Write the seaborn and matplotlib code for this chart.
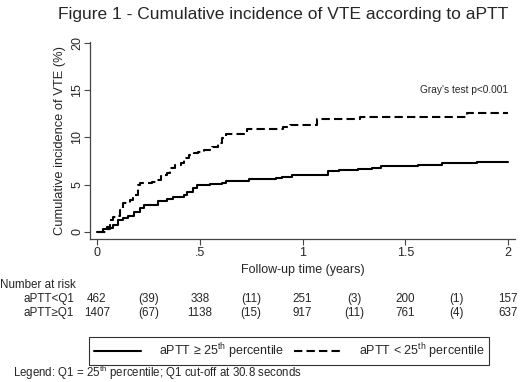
import numpy as np
import pandas as pd
import seaborn as sns
import matplotlib.pyplot as plt
import matplotlib.transforms as mtransforms
from matplotlib.lines import Line2D

# cumulative incidence step points (years, %)
low_time = [0, 0.047, 0.063, 0.078, 0.096, 0.112, 0.127, 0.16, 0.175, 0.20, 0.21,
            0.27, 0.29, 0.31, 0.34, 0.355, 0.38, 0.41, 0.425, 0.45, 0.47, 0.49,
            0.52, 0.56, 0.59, 0.61, 0.63, 0.73, 0.88, 0.905, 0.94, 1.07, 1.28,
            1.80, 2.0]
low_inc = [0, 0.47, 1.2, 1.6, 1.7, 2.3, 3.0, 3.4, 3.9, 4.9, 5.2,
           5.3, 5.5, 6.0, 6.2, 6.7, 7.1, 7.3, 7.8, 8.1, 8.3, 8.5,
           8.7, 9.0, 9.4, 9.9, 10.4, 10.9, 10.9, 11.1, 11.3, 11.9, 12.2,
           12.6, 12.6]

high_time = [0, 0.03, 0.063, 0.078, 0.1, 0.127, 0.15, 0.18, 0.21, 0.23, 0.297,
             0.34, 0.37, 0.425, 0.44, 0.465, 0.485, 0.55, 0.61, 0.63, 0.74,
             0.87, 0.9, 0.95, 1.125, 1.18, 1.27, 1.34, 1.38, 1.56, 1.68, 1.85, 2.0]
high_inc = [0, 0.25, 0.36, 0.7, 1.2, 1.45, 1.7, 2.1, 2.5, 2.8, 3.3,
            3.5, 3.7, 3.9, 4.25, 4.6, 4.95, 5.05, 5.2, 5.4, 5.6,
            5.7, 5.85, 6.0, 6.4, 6.55, 6.65, 6.7, 7.0, 7.1, 7.25, 7.4, 7.4]

risk_times = [0, 0.25, 0.5, 0.75, 1, 1.25, 1.5, 1.75, 2]
risk_low = ['462', '(39)', '338', '(11)', '251', '(3)', '200', '(1)', '157']
risk_high = ['1407', '(67)', '1138', '(15)', '917', '(11)', '761', '(4)', '637']

df = pd.concat([
    pd.DataFrame({'time': high_time, 'inc': high_inc, 'group': 'high'}),
    pd.DataFrame({'time': low_time, 'inc': low_inc, 'group': 'low'}),
])

sns.set_theme(style='white')
plt.rcParams['font.family'] = ['Liberation Sans', 'DejaVu Sans']
plt.rcParams['mathtext.fontset'] = 'custom'
plt.rcParams['mathtext.rm'] = 'Liberation Sans'

fig = plt.figure(figsize=(5.2, 3.82), dpi=100)
ax = fig.add_axes([90 / 520, 1 - 239 / 382, 425 / 520, (239 - 41.7) / 382])

sns.lineplot(data=df, x='time', y='inc', hue='group', style='group',
             palette={'high': 'black', 'low': 'black'},
             dashes={'high': '', 'low': (4, 2)},
             estimator=None, sort=False, drawstyle='steps-post',
             linewidth=1.5, legend=False, ax=ax)

ax.set_xlim(-0.034, 2.034)
ax.set_ylim(-0.78, 20.15)
ax.set_xticks([0, 0.5, 1, 1.5, 2])
ax.set_xticklabels(['0', '.5', '1', '1.5', '2'], fontsize=9)
ax.set_yticks([0, 5, 10, 15, 20])
ax.set_yticklabels(['0', '5', '10', '15', '20'], fontsize=9, rotation=90, va='center')
ax.tick_params(axis='both', direction='out', length=4, width=0.8, color='#444444',
               bottom=True, left=True, pad=2)
ax.tick_params(axis='y', pad=1)
for s in ['top', 'right']:
    ax.spines[s].set_visible(False)
for s in ['left', 'bottom']:
    ax.spines[s].set_color('#444444')
    ax.spines[s].set_linewidth(0.9)

ax.set_xlabel('Follow-up time (years)', fontsize=9, labelpad=3)
ax.set_ylabel('Cumulative incidence of VTE (%)', fontsize=9.3, labelpad=4)
ax.text(2.0, 15, "Gray's test p<0.001", fontsize=7.3, ha='right', va='center')

fig.text(283 / 520, 1 - 15 / 382, 'Figure 1 - Cumulative incidence of VTE according to aPTT',
         fontsize=12.5, ha='center', va='center')

# number at risk table
tr = mtransforms.blended_transform_factory(ax.transData, fig.transFigure)
fig.text(0, 1 - 285 / 382, 'Number at risk', fontsize=8.4, va='center')
fig.text(23 / 520, 1 - 299 / 382, 'aPTT<Q1', fontsize=8.4, va='center')
fig.text(23 / 520, 1 - 313 / 382, 'aPTT\u2265Q1', fontsize=8.4, va='center')
for t, a, b in zip(risk_times, risk_low, risk_high):
    ax.text(t, 1 - 299 / 382, a, transform=tr, fontsize=8.4, ha='center', va='center')
    ax.text(t, 1 - 313 / 382, b, transform=tr, fontsize=8.4, ha='center', va='center')

handles = [Line2D([], [], color='black', lw=1.5),
           Line2D([], [], color='black', lw=1.5, dashes=(4, 2))]
labels = ['aPTT \u2265 25$^{\\rm th}$ percentile', 'aPTT < 25$^{\\rm th}$ percentile']
leg = fig.legend(handles, labels, loc='center', bbox_to_anchor=(289 / 520, 1 - 351 / 382),
                 ncol=2, fontsize=9, frameon=True, fancybox=False, handlelength=3.8,
                 columnspacing=0.8, borderpad=0.35, handletextpad=1.4, borderaxespad=0)
leg.get_frame().set_edgecolor('black')
leg.get_frame().set_linewidth(0.8)

fig.text(13 / 520, 1 - 373 / 382,
         'Legend: Q1 = 25$^{\\rm th}$ percentile; Q1 cut-off at 30.8 seconds',
         fontsize=8.3, va='center')

fig.savefig('out.png', dpi=100)
